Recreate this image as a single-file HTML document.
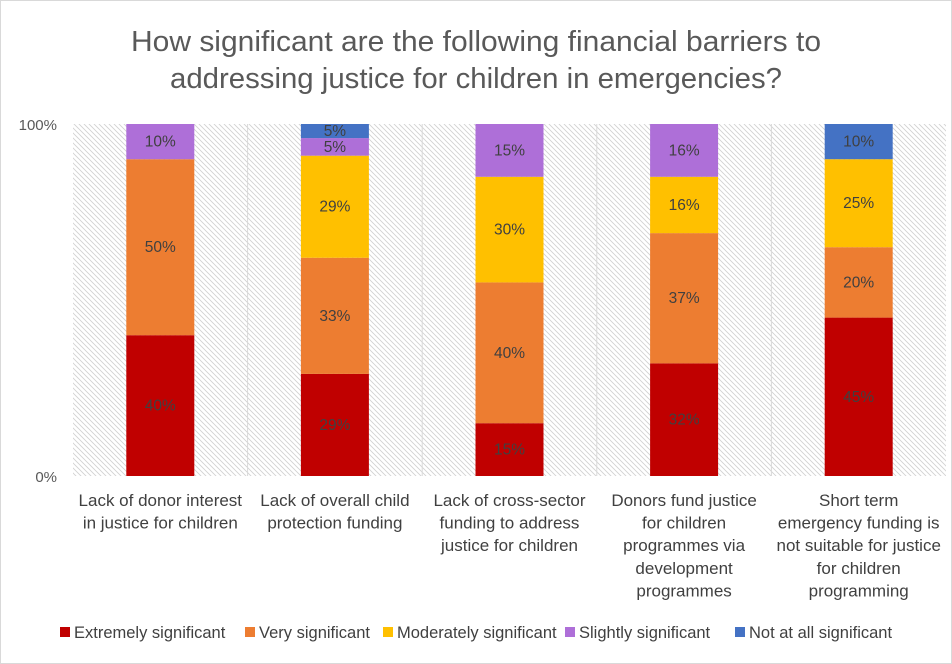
<!DOCTYPE html>
<html><head><meta charset="utf-8"><style>
body{margin:0;background:#fff}
svg{display:block;font-family:"Liberation Sans",sans-serif}
</style></head><body>
<svg width="952" height="664">
<defs><pattern id="hatch" width="5" height="5" patternUnits="userSpaceOnUse"><rect width="5" height="5" fill="#fff"/><path d="M0,0 L5,5 M-1,4 L1,6 M4,-1 L6,1" stroke="#d0d0d0" stroke-width="0.8"/></pattern>
<clipPath id="pc"><rect x="73" y="124" width="873" height="352"/></clipPath></defs>
<rect x="0.5" y="0.5" width="951" height="663" fill="#fff" stroke="#d9d9d9"/>
<text x="476" y="51" text-anchor="middle" font-size="29" textLength="690" lengthAdjust="spacingAndGlyphs" fill="#595959">How significant are the following financial barriers to</text>
<text x="476" y="88" text-anchor="middle" font-size="29" textLength="612" lengthAdjust="spacingAndGlyphs" fill="#595959">addressing justice for children in emergencies?</text>
<rect x="73" y="124" width="873" height="352" fill="url(#hatch)"/>
<g id="grid"></g><g id="bars" clip-path="url(#pc)"></g><g id="labels"></g><g id="axes"></g><g id="legend"></g>
</svg>
<script>
const categories=[["Lack of donor interest","in justice for children"],["Lack of overall child","protection funding"],["Lack of cross-sector","funding to address","justice for children"],["Donors fund justice","for children","programmes via","development","programmes"],["Short term","emergency funding is","not suitable for justice","for children","programming"]];
const seriesNames=["Extremely significant","Very significant","Moderately significant","Slightly significant","Not at all significant"];
const extremely=[40,29,15,32,45];
const very=[50,33,40,37,20];
const moderately=[0,29,30,16,25];
const slightly=[10,5,15,16,0];
const notAtAll=[0,5,0,0,10];
const yTicks=[0,100];
const colors=["#C00000","#ED7D31","#FFC000","#AE6FD8","#4472C4"];
const series=[extremely,very,moderately,slightly,notAtAll];
const NS="http://www.w3.org/2000/svg";
const x0=73,x1=946,yb=476,yt=124,cw=(x1-x0)/categories.length,bw=68;
const y=v=>yb-(yb-yt)*v/100;
const cx=i=>x0+cw*(i+0.5);
function mk(p,tag,at){const e=document.createElementNS(NS,tag);for(const k in at)e.setAttribute(k,at[k]);document.getElementById(p).appendChild(e);return e;}
for(let i=1;i<categories.length;i++){const l=mk("grid","line",{x1:x0+cw*i,x2:x0+cw*i,y1:yt,y2:yb,stroke:"#d9d9d9"});

}
categories.forEach((c,i)=>{let acc=0;
series.forEach((s,k)=>{const v=s[i];if(!v)return;
const r=mk("bars","rect",{x:cx(i)-bw/2,y:y(acc+v),width:bw,height:y(acc)-y(acc+v),fill:colors[k]});


const ly=Math.max((y(acc)+y(Math.min(acc+v,100)))/2,yt+6);
const t=mk("labels","text",{x:cx(i),y:ly+5,"text-anchor":"middle","font-size":15.5,fill:"#404040"});t.textContent=v+"%";


acc+=v;});
c.forEach((ln,j)=>{const t=mk("axes","text",{x:cx(i),y:506+j*22.6,"text-anchor":"middle","font-size":17,fill:"#404040"});t.textContent=ln;

});});
yTicks.forEach(v=>{const t=mk("axes","text",{x:57,y:y(v)+6,"text-anchor":"end","font-size":15,fill:"#595959"});t.textContent=v+"%";

});
const lxs=[60,245,383,565,735];
seriesNames.forEach((n,k)=>{const lx=lxs[k];const r=mk("legend","rect",{x:lx,y:627,width:10,height:10,fill:colors[k]});


const t=mk("legend","text",{x:lx+14,y:638,"font-size":16.5,fill:"#404040"});t.textContent=n;

});
</script>
</body></html>
